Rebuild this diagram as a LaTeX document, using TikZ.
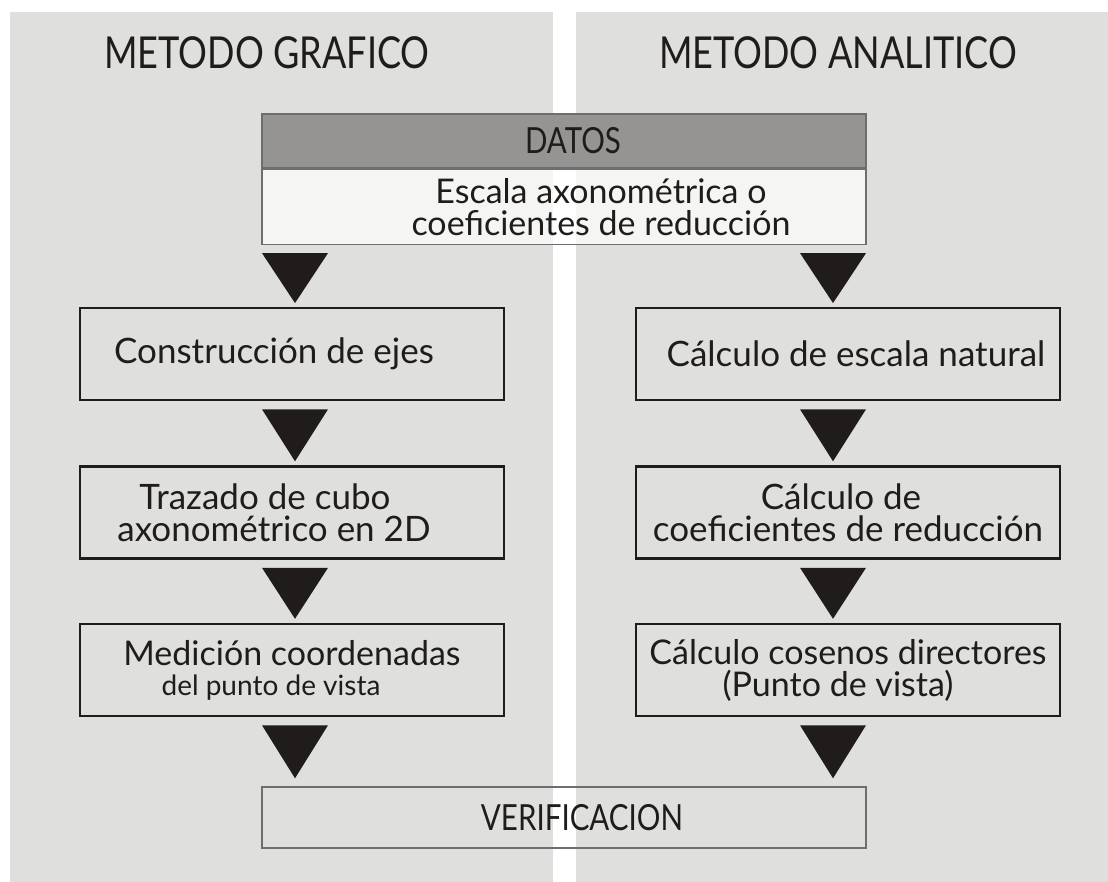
\documentclass[tikz,border=0pt]{standalone}
\usepackage{fontspec}
\setmainfont{Lato}
\newfontfamily\narrowfont[FakeStretch=0.82]{Lato}
\usetikzlibrary{positioning,calc}

\definecolor{panelgray}{RGB}{223,223,221}
\definecolor{headgray}{RGB}{150,148,146}
\definecolor{ink}{RGB}{32,28,28}
\definecolor{linegray}{RGB}{110,110,110}

\tikzset{
		panel/.style={fill=panelgray, draw=none},
		title/.style={text=ink, font=\narrowfont\fontsize{22}{22}\selectfont},
		stepbox/.style={draw=ink, line width=1.3pt, minimum width=212pt, minimum height=46pt,
			inner sep=0pt, align=center, text=ink, font=\fontsize{17.5}{16}\selectfont},
		databox/.style={draw=linegray, line width=0.7pt, minimum width=302pt, inner sep=0pt,
			align=center, text=ink, font=\fontsize{17}{16}\selectfont},
		tri/.style={fill=ink}
	}

\begin{document}
\begin{tikzpicture}[x=0.5pt, y=-0.5pt]
	\useasboundingbox (0,0) rectangle (1108,882);
	\fill[white] (0,0) rectangle (1108,882);
	% paneles
	\fill[panel] (10,12) rectangle (553,882);
	\fill[panel] (576,12) rectangle (1108,882);
	\node[title] (tgraf) at (267,53) {METODO GRAFICO};
	\node[title] (tanal) at (838,53) {METODO ANALITICO};
	% datos
	\node[databox, fill=headgray, minimum height=27pt, font=\narrowfont\fontsize{18}{16}\selectfont]
		(datos) at (564,141) {\hspace*{9pt}DATOS};
	\node[databox, fill=white, fill opacity=0.7, text opacity=1, minimum height=37.5pt,
		below=0pt of datos] (escala)
		{\hspace*{37pt}Escala axonométrica o\\\hspace*{37pt}coeficientes de reducción};
	% columnas
	\coordinate (cl) at (295,0);
	\coordinate (cr) at (833,0);
	% metodo grafico
	\node[stepbox] (ejes) at (292,354) {Construcción de ejes\hspace{18pt}\mbox{}};
	\node[stepbox] (cubo) at (292,512.5)
		{Trazado de cubo\hspace{27pt}\mbox{}\\axonométrico en 2D\hspace{18pt}\mbox{}};
	\node[stepbox, font=\fontsize{17}{16}\selectfont] (medicion) at (292,670)
		{Medición coordenadas\\[-1pt]{\fontsize{14}{14}\selectfont del punto de vista\hspace{21pt}\mbox{}}};
	% metodo analitico
	\node[stepbox] (escnat) at (848,354) {\hspace*{8pt}Cálculo de escala natural};
	\node[stepbox] (coef) at (848,512.5) {Cálculo de\hspace{7pt}\mbox{}\\coeficientes de reducción};
	\node[stepbox, font=\fontsize{17}{16}\selectfont] (cosenos) at (848,670)
		{Cálculo cosenos directores\\(Punto de vista)\hspace{10pt}\mbox{}};
	% verificacion
	\node[databox, minimum height=30.5pt, font=\narrowfont\fontsize{18}{16}\selectfont]
		(verif) at (564,817.5) {\hspace*{18pt}VERIFICACION};
	% flechas
	\fill[tri] ($(cl |- escala.south)+(-33,8)$) -- ++(66,0) -- ++(-33,50) -- cycle;
	\fill[tri] ($(cr |- escala.south)+(-33,8)$) -- ++(66,0) -- ++(-33,50) -- cycle;
	\fill[tri] ($(cl |- ejes.south)+(-33,8)$) -- ++(66,0) -- ++(-33,52) -- cycle;
	\fill[tri] ($(cr |- escnat.south)+(-33,8)$) -- ++(66,0) -- ++(-33,52) -- cycle;
	\fill[tri] ($(cl |- cubo.south)+(-33,8)$) -- ++(66,0) -- ++(-33,51) -- cycle;
	\fill[tri] ($(cr |- coef.south)+(-33,8)$) -- ++(66,0) -- ++(-33,51) -- cycle;
	\fill[tri] ($(cl |- medicion.south)+(-33,8)$) -- ++(66,0) -- ++(-33,53) -- cycle;
	\fill[tri] ($(cr |- cosenos.south)+(-33,8)$) -- ++(66,0) -- ++(-33,53) -- cycle;
\end{tikzpicture}
\end{document}
